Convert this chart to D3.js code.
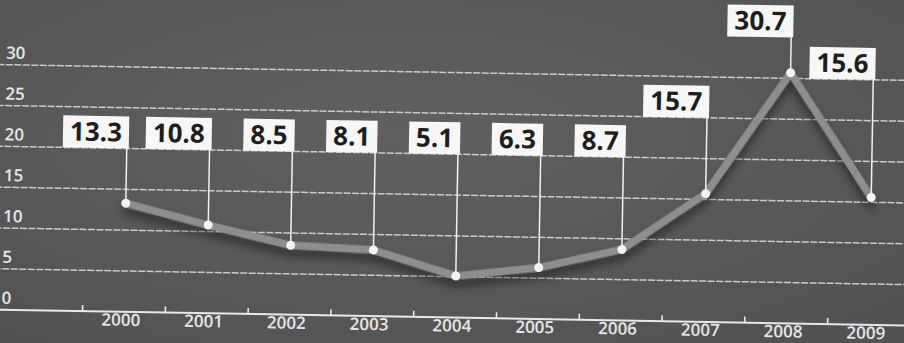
<!DOCTYPE html>
<html>
<head>
<meta charset="utf-8">
<script src="https://cdn.jsdelivr.net/npm/d3@7/dist/d3.min.js"></script>
<style>
  html, body { margin: 0; padding: 0; background: #585858; }
  svg { display: block; }
</style>
</head>
<body>
<svg id="chart" width="904" height="343"></svg>
<script>
// Yearly values
const years = ["2000", "2001", "2002", "2003", "2004", "2005", "2006", "2007", "2008", "2009"];
const values = [13.3, 10.8, 8.5, 8.1, 5.1, 6.3, 8.7, 15.7, 30.7, 15.6];
const yTicks = [0, 5, 10, 15, 20, 25, 30];

// Value level at which each callout box sits
const labelLevel = [20, 20, 20, 20, 20, 20, 20, 25, 35, 30];

const W = 904, H = 343;
const svg = d3.select("#chart");

// backdrop
const defs = svg.append("defs");
const bg = defs.append("radialGradient").attr("id", "bg")
  .attr("cx", "45%").attr("cy", "40%").attr("r", "75%");
bg.append("stop").attr("offset", "0%").attr("stop-color", "#606060");
bg.append("stop").attr("offset", "100%").attr("stop-color", "#525252");
svg.append("rect").attr("width", W).attr("height", H).attr("fill", "url(#bg)");

const shadow = defs.append("filter").attr("id", "shadow")
  .attr("x", "-10%").attr("y", "-20%").attr("width", "120%").attr("height", "160%");
shadow.append("feDropShadow").attr("dx", 0).attr("dy", 7).attr("stdDeviation", 4)
  .attr("flood-color", "#000").attr("flood-opacity", 0.5);

// whole chart is tilted slightly
const g = svg.append("g").attr("transform", `rotate(1, ${W / 2}, ${H / 2})`);

const x = d3.scaleBand().domain(years).range([85, 913]).padding(0);
const y = d3.scaleLinear().domain([0, 30]).range([317.5, 72.5]);
const cx = i => x(years[i]) + x.bandwidth() / 2;

// horizontal grid
g.append("g").selectAll("line").data(yTicks.filter(t => t > 0)).join("line")
  .attr("x1", -30).attr("x2", W + 30)
  .attr("y1", d => y(d)).attr("y2", d => y(d))
  .attr("stroke", "#d8d8d8").attr("stroke-width", 1.5)
  .attr("stroke-dasharray", "7,1.5").attr("opacity", 0.9);

// y labels sit just above their grid line
g.append("g").selectAll("text").data(yTicks).join("text")
  .attr("x", 4).attr("y", d => y(d) - 6)
  .attr("font-family", "'Open Sans', sans-serif").attr("font-weight", 600)
  .attr("font-size", 17).attr("fill", "#e6e6e6")
  .text(d => d);

// x axis: baseline, upward ticks at band edges, year labels
const xAxis = d3.axisBottom(x).tickSize(0).tickPadding(0);
const ax = g.append("g").attr("transform", `translate(0, ${y(0)})`).call(xAxis);
ax.select(".domain").remove();
ax.selectAll("text")
  .attr("font-family", "'Open Sans', sans-serif").attr("font-weight", 600)
  .attr("font-size", 17).attr("fill", "#e6e6e6")
  .attr("dx", -3).attr("dy", 14);
g.append("line").attr("x1", -30).attr("x2", W + 30)
  .attr("y1", y(0)).attr("y2", y(0))
  .attr("stroke", "#e8e8e8").attr("stroke-width", 2);
g.append("g").selectAll("line").data(years).join("line")
  .attr("x1", d => x(d)).attr("x2", d => x(d))
  .attr("y1", y(0)).attr("y2", y(0) - 6)
  .attr("stroke", "#e8e8e8").attr("stroke-width", 1.6);

// data line
const line = d3.line().x((d, i) => cx(i)).y(d => y(d));
g.append("path").datum(values)
  .attr("d", line)
  .attr("fill", "none").attr("stroke", "#8e8e8e").attr("stroke-width", 7.5)
  .attr("stroke-linejoin", "round").attr("stroke-linecap", "round")
  .attr("filter", "url(#shadow)");

// callouts: leader line, white box, value
const callouts = g.append("g").selectAll("g").data(values).join("g");
callouts.append("line")
  .attr("x1", (d, i) => cx(i)).attr("x2", (d, i) => cx(i))
  .attr("y1", (d, i) => y(labelLevel[i])).attr("y2", d => y(d))
  .attr("stroke", "#f2f2f2").attr("stroke-width", 1.5);

const boxH = 32, pad = 7;
callouts.each(function (d, i) {
  const grp = d3.select(this);
  const right = cx(i) + 2;
  const bottom = y(labelLevel[i]);
  const rect = grp.append("rect").attr("fill", "#f7f7f7");
  const t = grp.append("text")
    .attr("x", right - pad).attr("y", bottom - 7)
    .attr("text-anchor", "end")
    .attr("font-family", "'Open Sans', sans-serif").attr("font-weight", 700)
    .attr("font-size", 26).attr("fill", "#1e1e1e")
    .text(d.toFixed(1));
  const w = t.node().getComputedTextLength() + pad * 2;
  rect.attr("x", right - w).attr("y", bottom - boxH)
    .attr("width", w).attr("height", boxH);
});

// points
g.append("g").selectAll("circle").data(values).join("circle")
  .attr("cx", (d, i) => cx(i)).attr("cy", d => y(d)).attr("r", 4.5)
  .attr("fill", "#f4f4f4");
</script>
</body>
</html>
